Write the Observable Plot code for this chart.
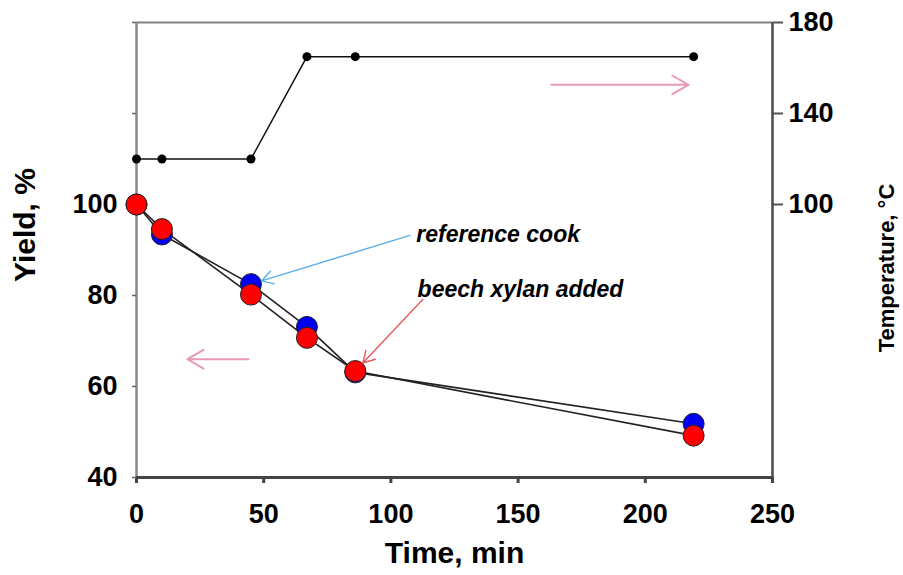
<!DOCTYPE html>
<html>
<head>
<meta charset="utf-8">
<script src="https://cdn.jsdelivr.net/npm/d3@7"></script>
<script src="https://cdn.jsdelivr.net/npm/@observablehq/plot@0.6"></script>
<style>
  html, body { margin: 0; padding: 0; background: #fff; }
  #chart svg { display: block; }
</style>
</head>
<body>
<div id="chart"></div>
<script>
// Cooking time (min) at each sampling point
const times = [0, 10, 45, 67, 86, 219];
// Yield (%) for the reference cook and the cook with beech xylan added
const referenceCook = [100, 93.4, 82.5, 73.1, 63.1, 51.8];
const beechXylanAdded = [100, 94.6, 80.2, 70.7, 63.4, 49.2];
// Cooking temperature (°C)
const temperature = [120, 120, 120, 165, 165, 165];

// Axis ticks
const timeTicks = [0, 50, 100, 150, 200, 250];
const yieldTicks = [40, 60, 80, 100, 120, 140];
const yieldTickLabels = [40, 60, 80, 100];
const tempTicks = [180, 140, 100];

// Annotations (time, yield units)
const noteTexts = ["reference cook", "beech xylan added"];
const noteX = [110, 110.5];
const noteY = [93.4, 81.4];
const noteTailX = [107.5, 112.5];
const noteTailY = [93.2, 79.1];
const noteColors = ["#5aaee6", "#e8585c"];
const noteTargets = [
  {x: times[2], y: referenceCook[2]},
  {x: times[4], y: beechXylanAdded[4]}
];

// Arrows pointing each curve toward its axis
const axisArrowX1 = [44, 163];
const axisArrowX2 = [20, 217];
const axisArrowY = [66, 126.3];

// Temperature shares the yield scale: 40–140 % maps onto -20–180 °C
const tempToYield = t => 40 + (t + 20) / 2;
const yieldToTemp = v => Math.round((v - 40) * 2 - 20);

const series = (vals, name) => times.map((t, i) => ({time: t, value: vals[i], name}));
const ref = series(referenceCook, "reference");
const beech = series(beechXylanAdded, "beech");
const temp = times.map((t, i) => ({time: t, temp: temperature[i]}));
const notes = noteTexts.map((text, i) => ({
  text, x: noteX[i], y: noteY[i], tx: noteTailX[i], ty: noteTailY[i],
  color: noteColors[i], hx: noteTargets[i].x, hy: noteTargets[i].y
}));
const axisArrows = axisArrowY.map((y, i) => ({x1: axisArrowX1[i], x2: axisArrowX2[i], y}));

const font = "Liberation Sans, Arial, sans-serif";

const chart = Plot.plot({
  width: 903,
  height: 575,
  marginLeft: 136,
  marginRight: 131,
  marginTop: 22,
  marginBottom: 98,
  style: {fontFamily: font, fontWeight: "bold", color: "#000", background: "#fff"},
  x: {domain: [0, 250]},
  y: {domain: [40, 140]},
  marks: [
    // plot frame
    Plot.ruleY([140], {stroke: "#808080", strokeWidth: 2}),
    Plot.ruleX([0], {stroke: "#8a8a8a", strokeWidth: 2.5}),
    Plot.ruleX([250], {stroke: "#4a4a4a", strokeWidth: 2.5}),
    Plot.ruleY([40], {stroke: "#444", strokeWidth: 3}),

    // axes
    Plot.axisX(timeTicks, {
      label: null, tickSize: 6, tickPadding: 20, fontSize: 27,
      stroke: "#444", strokeWidth: 3
    }),
    Plot.axisY(yieldTicks, {
      label: null, tickSize: 4, tickPadding: 15, fontSize: 27,
      stroke: "#666", strokeWidth: 1.5,
      tickFormat: d => yieldTickLabels.includes(d) ? String(d) : ""
    }),
    Plot.axisY(tempTicks.map(tempToYield), {
      anchor: "right", label: null, tickSize: 10, tickPadding: 6, fontSize: 27,
      stroke: "#555", strokeWidth: 2,
      tickFormat: v => String(yieldToTemp(v))
    }),

    // temperature profile
    Plot.line(temp, {x: "time", y: d => tempToYield(d.temp), stroke: "#111", strokeWidth: 1.5}),
    Plot.dot(temp, {x: "time", y: d => tempToYield(d.temp), r: 4.5, fill: "#000"}),

    // yield curves
    Plot.line(ref, {x: "time", y: "value", stroke: "#222", strokeWidth: 1.6}),
    Plot.line(beech, {x: "time", y: "value", stroke: "#222", strokeWidth: 1.6}),
    Plot.dot(ref, {x: "time", y: "value", r: 10.5, fill: "#0000f0", stroke: "#222", strokeWidth: 1}),
    Plot.dot(beech, {x: "time", y: "value", r: 10.5, fill: "#ff0000", stroke: "#222", strokeWidth: 1}),

    // curve-to-axis arrows
    Plot.arrow(axisArrows, {
      x1: "x1", x2: "x2", y1: "y", y2: "y",
      stroke: "#e07898", strokeWidth: 2, strokeOpacity: 0.75, headLength: 14
    }),

    // annotations
    Plot.arrow(notes, {
      x1: "tx", y1: "ty", x2: "hx", y2: "hy", stroke: "color",
      strokeWidth: 1.4, headLength: 14, insetEnd: 11
    }),
    Plot.text(notes, {
      x: "x", y: "y", text: "text", textAnchor: "start",
      fontSize: 23, fontStyle: "italic", fontWeight: "bold", fill: "#000"
    }),

    // axis titles
    Plot.text(["Time, min"], {
      frameAnchor: "bottom", dy: 85, fontSize: 30, fontWeight: "bold", fill: "#000"
    }),
    Plot.text(["Yield, %"], {
      frameAnchor: "left", textAnchor: "middle", dx: -111, dy: -25, rotate: -90,
      fontSize: 30, fontWeight: "bold", fill: "#000"
    }),
    Plot.text(["Temperature, °C"], {
      frameAnchor: "right", textAnchor: "middle", dx: 114, dy: 18, rotate: -90,
      fontSize: 22, fontWeight: "bold", fill: "#000"
    })
  ]
});

document.getElementById("chart").appendChild(chart);
</script>
</body>
</html>
